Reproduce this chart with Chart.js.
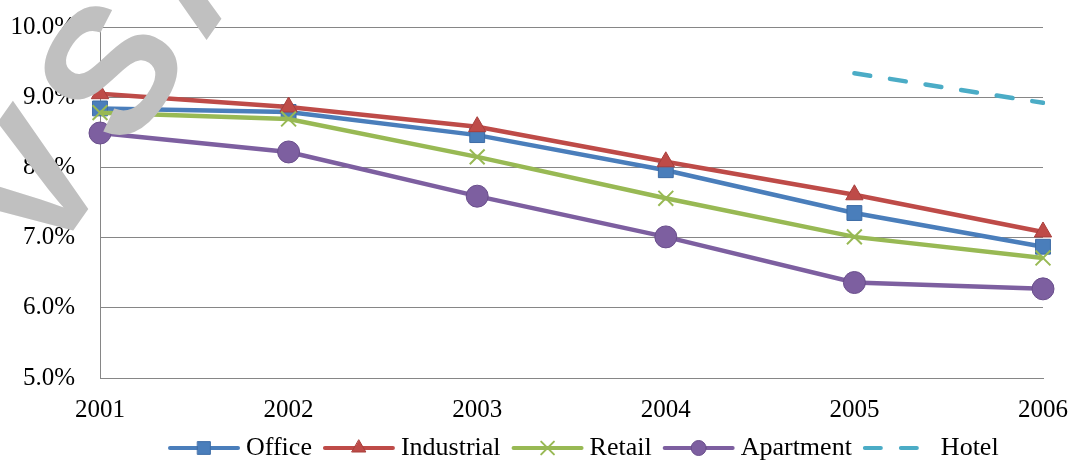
<!DOCTYPE html>
<html>
<head>
<meta charset="utf-8">
<script src="https://cdn.jsdelivr.net/npm/chart.js@4.4.0/dist/chart.umd.min.js"></script>
<style>
  html, body { margin: 0; padding: 0; background: #fff; }
  #wrap { width: 1074px; height: 461px; }
</style>
</head>
<body>
<div id="wrap"><canvas id="capRates" width="1074" height="461"></canvas></div>
<script>
// Cap rates by property type (percent)
const years = ['2001', '2002', '2003', '2004', '2005', '2006'];
const office = [8.84, 8.79, 8.46, 7.96, 7.35, 6.87];
const industrial = [9.05, 8.86, 8.58, 8.08, 7.61, 7.08];
const retail = [8.78, 8.69, 8.15, 7.56, 7.01, 6.71];
const apartment = [8.49, 8.22, 7.59, 7.01, 6.36, 6.27];
const hotel = [null, null, null, null, 9.34, 8.92];

// y axis range / ticks
const yMin = 5;
const yMax = 10;
const yStep = 1;

const GRID = '#868686';
const SERIF = '"Liberation Serif", "Times New Roman", serif';

// legend under the plot: line + marker, then the label
const lineLegend = {
  id: 'lineLegend',
  afterDraw(chart) {
    const ctx = chart.ctx;
    const y = 448;
    let x = 168;
    ctx.save();
    ctx.font = '26px ' + SERIF;
    ctx.textBaseline = 'middle';
    chart.data.datasets.forEach(ds => {
      ctx.strokeStyle = ds.borderColor;
      ctx.lineWidth = 4;
      ctx.lineCap = 'round';
      ctx.setLineDash(ds.borderDash || []);
      ctx.beginPath();
      ctx.moveTo(x + 2, y);
      ctx.lineTo(x + 70, y);
      ctx.stroke();
      ctx.setLineDash([]);
      if (ds.pointRadius > 0) {
        ctx.fillStyle = ds.pointBackgroundColor;
        ctx.strokeStyle = ds.pointBorderColor;
        ctx.lineWidth = ds.pointBorderWidth;
        Chart.helpers.drawPoint(ctx, {
          pointStyle: ds.pointStyle,
          radius: ds.legendRadius,
          rotation: 0,
          borderWidth: ds.pointBorderWidth
        }, x + 36, y);
      }
      ctx.fillStyle = '#000';
      ctx.fillText(ds.label, x + 78, y);
      x += 78 + ctx.measureText(ds.label).width + 11;
    });
    ctx.restore();
  }
};

// grey stamp lettering across the top-left corner, one letter at a time
const stamp = {
  id: 'stamp',
  afterDraw(chart) {
    const ctx = chart.ctx;
    const size = 180;
    const step = 140;
    const letters = ['V', 'S', 'A'];
    ctx.save();
    ctx.translate(108, 68);
    ctx.rotate(-55 * Math.PI / 180);
    ctx.font = 'bold ' + size + 'px "Liberation Sans", Arial, sans-serif';
    ctx.fillStyle = '#c0c0c0';
    ctx.textAlign = 'center';
    ctx.textBaseline = 'alphabetic';
    letters.forEach((ch, i) => {
      ctx.fillText(ch, (i - 1) * step, size * 0.36);
    });
    ctx.restore();
  }
};

const ctx = document.getElementById('capRates').getContext('2d');
new Chart(ctx, {
  type: 'line',
  data: {
    labels: years,
    datasets: [
      {
        label: 'Office', data: office, order: 4,
        borderColor: '#4A7EBB', borderWidth: 4.5,
        pointStyle: 'rect', pointRadius: 10.5, legendRadius: 9,
        pointBackgroundColor: '#4A7EBB', pointBorderColor: '#3D6CA6', pointBorderWidth: 1
      },
      {
        label: 'Industrial', data: industrial, order: 3,
        borderColor: '#BE4B48', borderWidth: 4.5,
        pointStyle: 'triangle', pointRadius: 10, legendRadius: 8,
        pointBackgroundColor: '#BE4B48', pointBorderColor: '#A83E3B', pointBorderWidth: 1
      },
      {
        label: 'Retail', data: retail, order: 2,
        borderColor: '#98B954', borderWidth: 4.5,
        pointStyle: 'crossRot', pointRadius: 10.5, legendRadius: 9,
        pointBackgroundColor: '#98B954', pointBorderColor: '#98B954', pointBorderWidth: 2
      },
      {
        label: 'Apartment', data: apartment, order: 1,
        borderColor: '#7D5FA0', borderWidth: 4.5,
        pointStyle: 'circle', pointRadius: 11, legendRadius: 7.5,
        pointBackgroundColor: '#7D5FA0', pointBorderColor: '#6A4F8C', pointBorderWidth: 1
      },
      {
        label: 'Hotel', data: hotel, order: 0,
        borderColor: '#4BACC6', borderWidth: 4.5,
        borderDash: [16, 20], borderCapStyle: 'round',
        pointRadius: 0, legendRadius: 0
      }
    ]
  },
  options: {
    responsive: false,
    animation: false,
    devicePixelRatio: 1,
    layout: { padding: { left: 0, right: 31, top: 27, bottom: 38 } },
    elements: { line: { tension: 0 } },
    plugins: {
      legend: { display: false },
      tooltip: { enabled: false }
    },
    scales: {
      x: {
        offset: false,
        grid: { display: false },
        border: { display: true, color: GRID, width: 1 },
        ticks: {
          color: '#000',
          font: { family: SERIF, size: 25 },
          padding: 9,
          maxRotation: 0,
          autoSkip: false
        },
        afterFit(scale) {
          scale.height = 45;
          scale.paddingLeft = 0;
          scale.paddingRight = 0;
        }
      },
      y: {
        min: yMin,
        max: yMax,
        grid: { color: GRID, lineWidth: 1, drawTicks: false },
        border: { display: true, color: GRID, width: 1 },
        ticks: {
          stepSize: yStep,
          color: '#000',
          font: { family: SERIF, size: 25 },
          padding: 25,
          callback: v => v.toFixed(1) + '%'
        },
        afterFit(scale) {
          scale.width = 100;
          scale.paddingTop = 0;
          scale.paddingBottom = 0;
        }
      }
    }
  },
  plugins: [lineLegend, stamp]
});
</script>
</body>
</html>
